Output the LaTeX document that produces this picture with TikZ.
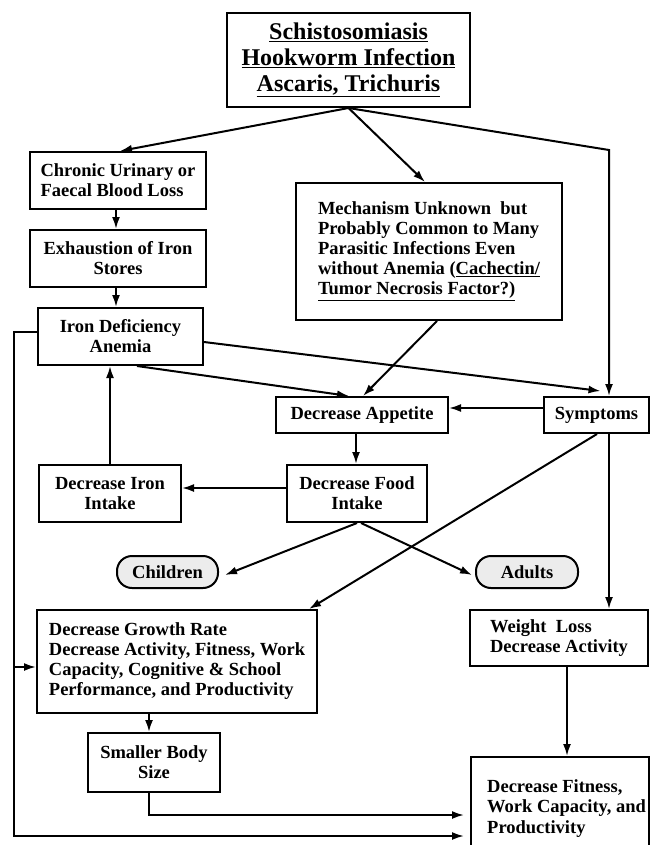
\documentclass[tikz,border=0pt]{standalone}
\usepackage{fontspec}
\setmainfont{Liberation Serif}
\usetikzlibrary{arrows.meta,calc}
\begin{document}
\begin{tikzpicture}[x=1pt,y=-1pt,
  box/.style={draw,line width=2pt,inner sep=0pt,font=\fontsize{18.5}{20}\selectfont\bfseries},
  txt/.style={inner sep=0pt,font=\fontsize{18.5}{20.5}\selectfont\bfseries},
  pill/.style={box,rounded corners=15pt,fill=gray!15},
  arr/.style={line width=2pt,-{Latex[length=12pt,width=8pt]}},
  ln/.style={line width=2pt}]
\useasboundingbox (0,0) rectangle (650,845);

\node[box,minimum width=243,minimum height=94,align=center,font=\fontsize{24}{26}\selectfont\bfseries] (top) at (348.5,60)
  {\underline{Schistosomiasis}\\\underline{Hookworm Infection}\\\underline{Ascaris, Trichuris}};
\node[box,minimum width=176,minimum height=57,align=left] (chronic) at (118,180.5) {Chronic Urinary or\\Faecal Blood Loss};
\node[box,minimum width=176,minimum height=57,align=center] (exhaust) at (118,258.5) {Exhaustion of Iron\\Stores};
\node[box,minimum width=266,minimum height=137,align=left] (mech) at (429,251.5)
  {Mechanism Unknown\ \ but\\Probably Common to Many\\Parasitic Infections Even\\without Anemia (\underline{Cachectin/}\\\underline{Tumor Necrosis Factor?)}};
\node[box,minimum width=165,minimum height=57,align=center] (irondef) at (120.5,336.5) {Iron Deficiency\\Anemia};
\node[box,minimum width=172,minimum height=36] (appetite) at (362,415) {Decrease Appetite};
\node[box,minimum width=105,minimum height=36] (symptoms) at (596.5,415) {Symptoms};
\node[box,minimum width=142,minimum height=57,align=center] (ironintake) at (110,493.5) {Decrease Iron\\Intake};
\node[box,minimum width=140,minimum height=57,align=center] (food) at (357,493.5) {Decrease Food\\Intake};
\node[pill,minimum width=101,minimum height=32] (children) at (167.5,572) {Children};
\node[pill,minimum width=102,minimum height=32] (adults) at (527,572) {Adults};
\node[box,minimum width=280,minimum height=103,align=left] (growth) at (177,661.5)
  {Decrease Growth Rate\\Decrease Activity, Fitness, Work\\Capacity, Cognitive \& School\\Performance, and Productivity};
\node[box,minimum width=178,minimum height=56,align=left] (weight) at (559,638) {Weight\ \ Loss\\Decrease Activity};
\node[box,minimum width=132,minimum height=59,align=center] (smaller) at (154,762.5) {Smaller Body\\Size};
\node[box,minimum width=178,minimum height=95] (fitness) at (560,804.5) {};
\node[txt,anchor=west,align=left] (fitnesstxt) at ($(fitness.west)+(17,4)$) {Decrease Fitness,\\Work Capacity, and\\Productivity};

\coordinate (rc) at (609,150);
\coordinate (lt) at (14,332);
\coordinate (lb) at (14,836);
\coordinate (sb) at (149,815);

\draw[arr] (top.south) -- ($(chronic.north)+(2,0)$);
\draw[arr] (top.south) -- ($(mech.north)+(-4,0)$);
\draw[arr] (top.south) -- (rc) -- (rc |- symptoms.north);
\draw[arr] ($(chronic.south)+(-2,0)$) -- ($(exhaust.north)+(-2,0)$);
\draw[arr] ($(exhaust.south)+(-2,0)$) -- ($(irondef.north)+(-4.5,0)$);
\draw[arr] ($(mech.south)+(8,0)$) -- ($(appetite.north)+(1,0)$);
\draw[arr] ($(irondef.east)+(0,5.5)$) -- ($(symptoms.north)+(4,-5)$);
\draw[arr] ($(irondef.south)+(16.5,0)$) -- ($(appetite.north)+(-13,0)$);
\draw[arr] ($(symptoms.west)+(0,-7)$) -- ($(appetite.east)+(0,-7)$);
\draw[arr] ($(appetite.south)+(-6,0)$) -- ($(food.north)+(-1,0)$);
\draw[arr] ($(food.west)+(0,-5.5)$) -- ($(ironintake.east)+(0,-5.5)$);
\draw[arr] (ironintake.north) -- (irondef.south -| ironintake.north);
\draw[arr] (food.south) -- ($(children.east)+(6,3)$);
\draw[arr] ($(food.south)+(4,0)$) -- ($(adults.west)+(-3,3)$);
\draw[arr] ($(symptoms.south)+(0.5,0)$) -- ($(growth.north)+(132,0)$);
\draw[arr] ($(symptoms.south)+(12.5,0)$) -- ($(weight.north)+(50,0)$);
\draw[arr] ($(irondef.west)+(0,-4.5)$) -- (lt) -- (lb) -- ($(lb -| fitness.west)+(-6,0)$);
\draw[arr] ($(lt |- growth.west)+(0,5.5)$) -- ($(growth.west)+(0,5.5)$);
\draw[arr] ($(growth.south)+(-28,0)$) -- ($(smaller.north)+(-5,0)$);
\draw[arr] ($(smaller.south)+(-5,0)$) -- (sb) -- ($(sb -| fitness.west)+(-6,0)$);
\draw[arr] ($(weight.south)+(8,0)$) -- ($(fitness.north)+(7,0)$);
\end{tikzpicture}
\end{document}
